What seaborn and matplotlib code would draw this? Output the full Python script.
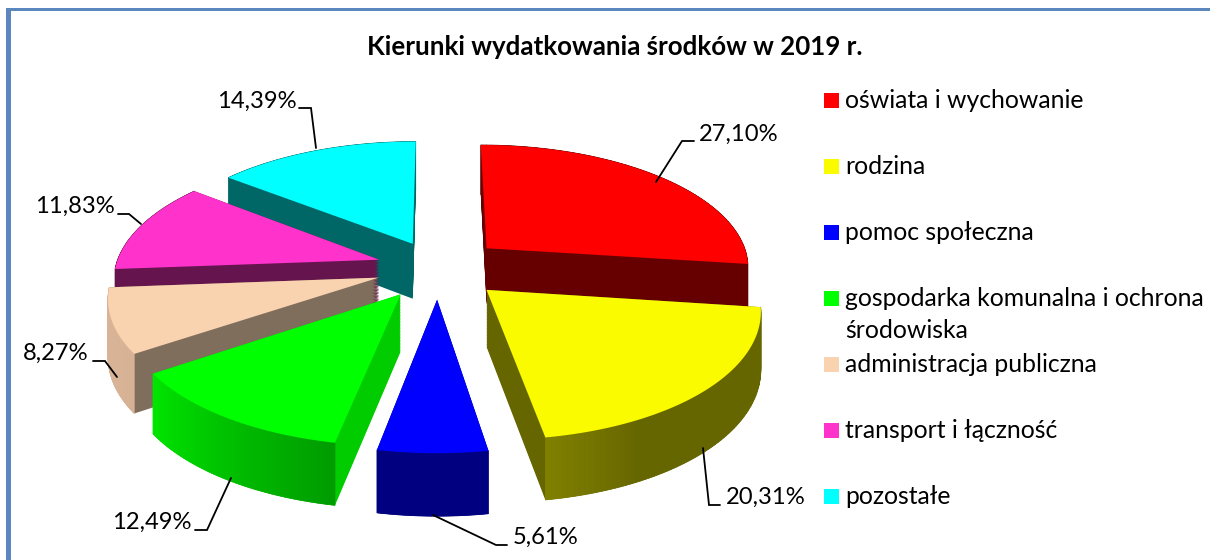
import numpy as np
import seaborn as sns
import matplotlib
matplotlib.use("Agg")
import matplotlib.pyplot as plt
from matplotlib.patches import Wedge, Rectangle
from matplotlib.collections import PolyCollection
from matplotlib.transforms import Transform, Affine2D
from matplotlib.path import Path

categories = ["oświata i wychowanie", "rodzina", "pomoc społeczna",
              "gospodarka komunalna i ochrona\nśrodowiska", "administracja publiczna",
              "transport i łączność", "pozostałe"]
shares = [27.10, 20.31, 5.61, 12.49, 8.27, 11.83, 14.39]

top_colors = ["#FF0000", "#FBFB00", "#0000FF", "#00FF00", "#F9D2B0", "#FF33CC", "#00FFFF"]
cut_colors = ["#660000", "#666600", "#000080", "#00CC00", "#806E5C", "#66144D", "#006666"]
rim_from = ["#660000", "#808000", "#000080", "#00E600", "#D9B396", "#66144D", "#006666"]
rim_to = ["#660000", "#666600", "#000080", "#009C00", "#D9B396", "#66144D", "#006666"]
rim_span = [1, 0.25, 1, 1, 1, 1, 1]
pull_out = [0.25, 0.25, 0.25, 0.25, 0.235, 0.235, 0.225]

sns.set_theme(style="white")
plt.rcParams["font.family"] = ["Lato", "DejaVu Sans"]

W, H = 1210, 560
CX, CY, RX, RY, PERSP, DEPTH = 438, 268, 264, 122.6, 0.138, 56


class Tilt(Transform):
    """Perspective view of the flat pie, dropped by `drop` (0 top, 1 bottom of the disc)."""
    input_dims = output_dims = 2

    def __init__(self, drop=0.0):
        super().__init__()
        self.drop = drop

    def transform_non_affine(self, xy):
        xy = np.asarray(xy, float)
        x, y = xy[:, 0], xy[:, 1]
        w = 1 + PERSP * y
        return np.column_stack([CX + RX * x / w,
                                CY - RY * y / w + self.drop * DEPTH * (1 - 0.1 * y)])

    def transform_path_non_affine(self, path):
        # flatten the curves finely first, then bend the outline
        polys = path.to_polygons(Affine2D().scale(3000), closed_only=False)
        return Path(self.transform_non_affine(polys[0] / 3000.0))


fig = plt.figure(figsize=(W / 100, H / 100), dpi=100, facecolor="white")
ax = fig.add_axes([0, 0, 1, 1])
palette = sns.color_palette(top_colors)
wedges, _ = ax.pie(shares, explode=pull_out, startangle=90,
                   counterclock=False, colors=palette, radius=1)
ax.set_aspect("auto")
ax.set_xlim(0, W)
ax.set_ylim(H, 0)
ax.axis("off")

draw_order = [6, 5, 0, 4, 3, 1, 2]
for rank, i in enumerate(draw_order):
    w = wedges[i]
    base = 10 + rank * 10
    # extruded body with the colour of the cut faces
    for drop in np.linspace(1, 0, 40):
        body = Wedge(w.center, w.r, w.theta1, w.theta2, facecolor=cut_colors[i],
                     edgecolor="none", zorder=base)
        ax.add_patch(body)
        body.set_transform(Tilt(drop) + ax.transData)
    # outer rim, shaded along the arc
    th = np.radians(np.linspace(w.theta1, w.theta2, 70))
    ex = w.center[0] + w.r * np.cos(th)
    ey = w.center[1] + w.r * np.sin(th)
    pts = np.column_stack([ex, ey])
    up = Tilt(0).transform_non_affine(pts)
    dn = Tilt(1).transform_non_affine(pts)
    quads, shades = [], []
    c0 = np.array(matplotlib.colors.to_rgb(rim_from[i]))
    c1 = np.array(matplotlib.colors.to_rgb(rim_to[i]))
    for k in range(len(th) - 1):
        quads.append([up[k], up[k + 1], dn[k + 1], dn[k]])
        t = min(1.0, k / (len(th) - 2) / rim_span[i])
        shades.append(tuple(c0 + (c1 - c0) * t))
    ax.add_collection(PolyCollection(quads, facecolors=shades, edgecolors=shades,
                                     linewidths=0.5, zorder=base + 1))
    # top face
    w.set_transform(Tilt(0) + ax.transData)
    w.set_zorder(base + 2)
    w.set_edgecolor("none")

# data labels with their leader lines
label_text = [f"{v:.2f}%".replace(".", ",") for v in shares]
label_pos = [(699, 134), (726, 497), (513, 537), (112, 522), (23, 353), (35, 206), (217, 101)]
leaders = [[(694, 141), (682, 141), (656, 182)],
           [(720, 505), (709, 505), (703, 448)],
           [(507, 545), (496, 545), (433, 515)],
           [(195, 530), (207, 530), (231, 478)],
           [(93, 361), (105, 361), (117, 377)],
           [(118, 214), (129, 214), (141, 224)],
           [(299, 108), (311, 108), (316, 148)]]
for txt, (x, y), line in zip(label_text, label_pos, leaders):
    ax.text(x, y, txt, fontsize=17.1, color="black", ha="left", va="center", zorder=200)
    ax.plot(*zip(*line), color="black", lw=1.3, zorder=200, solid_joinstyle="miter")

# legend
legend_y = [100, 166, 232, 298, 364, 430, 496]
for name, col, y in zip(categories, palette, legend_y):
    ax.add_patch(Rectangle((824, y - 7.5), 15, 15, facecolor=col, edgecolor="none", zorder=200))
    ax.text(845, y, name.split("\n")[0], fontsize=17.8, color="black", ha="left",
            va="center", zorder=200)
    if "\n" in name:
        ax.text(845, y + 33, name.split("\n")[1], fontsize=17.8, color="black", ha="left",
                va="center", zorder=200)

ax.text(615, 47, "Kierunki wydatkowania środków w 2019 r.", fontsize=18.6, fontweight="bold",
        color="black", ha="center", va="center", zorder=200)

# frame: only the top and left sides are in view
ax.add_patch(Rectangle((6, 8), W, 3, facecolor="#5B86BE", edgecolor="none", zorder=300))
ax.add_patch(Rectangle((6, 8), 5, H, facecolor="#5B86BE", edgecolor="none", zorder=300))

fig.savefig("out.png", dpi=100, facecolor="white")
